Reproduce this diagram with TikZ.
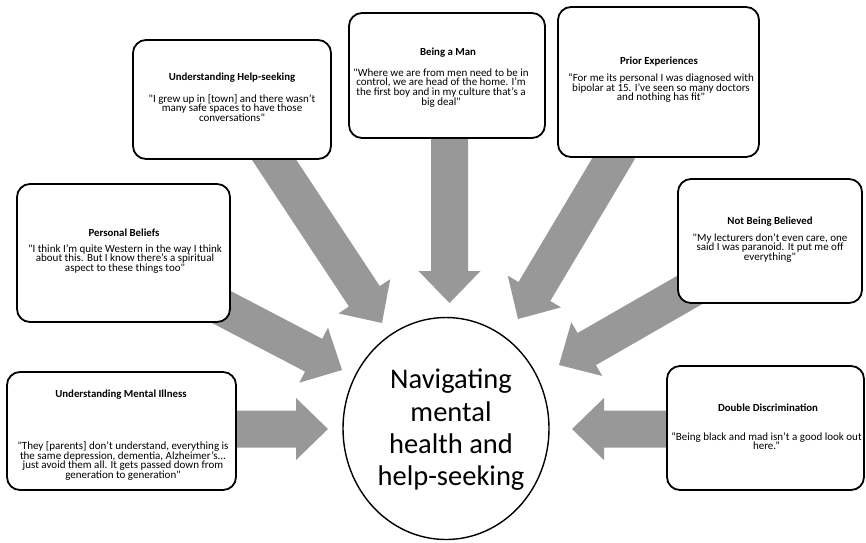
\documentclass[tikz,border=0pt]{standalone}
\usepackage{fontspec}
\setmainfont{Carlito}[Ligatures=TeXOff]
\usetikzlibrary{calc,shapes.geometric}
\definecolor{arrowgrey}{HTML}{989898}

\tikzset{
  card/.style={draw=black, line width=1.8pt, rounded corners=13pt, fill=white, inner sep=0pt},
  cardtitle/.style={font=\fontsize{10.8}{12}\selectfont\bfseries, inner sep=0pt},
  cardquote/.style={font={\fontsize{11}{9.8}\selectfont\lineskiplimit=-20pt}, align=center, inner sep=0pt},
  arrowfill/.style={fill=arrowgrey},
  hub/.style={draw=black, ellipse, line width=1.4pt, minimum width=206pt, minimum height=222pt, inner sep=0pt, fill=white},
  hubtext/.style={font=\fontsize{28.5}{32.3}\selectfont, align=center, inner sep=0pt}
}

% Broad block arrow: #1 name, #2 tail coordinate, #3 tip coordinate
\newcommand\blockarrow[3]{%
  \coordinate (#1-base) at ($(#3)!32pt!(#2)$);
  \fill[arrowfill] ($(#2)!18.5pt!90:(#3)$) -- ($(#1-base)!18.5pt!90:(#3)$)
    -- ($(#1-base)!31pt!90:(#3)$) -- (#3) -- ($(#1-base)!31pt!-90:(#3)$)
    -- ($(#1-base)!18.5pt!-90:(#3)$) -- ($(#2)!18.5pt!-90:(#3)$) -- cycle;
}

\begin{document}
\begin{tikzpicture}[x=1pt, y=-1pt]
\useasboundingbox (0,0) rectangle (866,542);

% arrow ends
\coordinate (t1) at (267.4,149.7); \coordinate (p1) at (382,323);
\coordinate (t2) at (449.5,130);   \coordinate (p2) at (449.5,303);
\coordinate (t3) at (619,149.4);   \coordinate (p3) at (518,319);
\coordinate (t4) at (208,300);     \coordinate (p4) at (342,370);
\coordinate (t5) at (700,284);     \coordinate (p5) at (559,365);
\coordinate (t6) at (225,429);     \coordinate (p6) at (328,429);
\coordinate (t7) at (680,429);     \coordinate (p7) at (572,429);

% arrows towards the centre
\blockarrow{a1}{t1}{p1}
\blockarrow{a2}{t2}{p2}
\blockarrow{a3}{t3}{p3}
\blockarrow{a4}{t4}{p4}
\blockarrow{a5}{t5}{p5}
\blockarrow{a6}{t6}{p6}
\blockarrow{a7}{t7}{p7}

% theme cards
\node[card, minimum width=198pt, minimum height=119pt] (b1) at (232,99.5) {};
\node[cardtitle] (b1t) at (232,78) {Understanding Help-seeking};
\node[cardquote] (b1q) at (232,108) {"I grew up in [town] and there wasn’t\\many safe spaces to have those\\conversations"};

\node[card, minimum width=196pt, minimum height=125pt] (b2) at (447,75.5) {};
\node[cardtitle] (b2t) at (448,53) {Being a Man};
\node[cardquote] (b2q) at (441,88) {"Where we are from men need to be in\\control, we are head of the home. I’m\\the first boy and in my culture that’s a\\big deal"};

\node[card, minimum width=201pt, minimum height=150pt] (b3) at (658.5,82) {};
\node[cardtitle] (b3t) at (659,62) {Prior Experiences};
\node[cardquote] (b3q) at (661,88) {“For me its personal I was diagnosed with\\bipolar at 15. I’ve seen so many doctors\\and nothing has fit"};

\node[card, minimum width=213pt, minimum height=138pt] (b4) at (123.5,253) {};
\node[cardtitle] (b4t) at (124,233) {Personal Beliefs};
\node[cardquote] (b4q) at (125,259) {"I think I’m quite Western in the way I think\\about this. But I know there’s a spiritual\\aspect to these things too"};

\node[card, minimum width=184pt, minimum height=124pt] (b5) at (770,241) {};
\node[cardtitle] (b5t) at (770,222) {Not Being Believed};
\node[cardquote] (b5q) at (770,248) {"My lecturers don’t even care, one\\said I was paranoid. It put me off\\everything"};

\node[card, minimum width=229pt, minimum height=118pt] (b6) at (121.5,431) {};
\node[cardtitle] (b6t) at (121,395) {Understanding Mental Illness};
\node[cardquote] (b6q) at (123,461) {"They [parents] don’t understand, everything is\\the same depression, dementia, Alzheimer’s...\\just avoid them all. It gets passed down from\\generation to generation"};

\node[card, minimum width=197pt, minimum height=124pt] (b7) at (765.5,428) {};
\node[cardtitle] (b7t) at (768,408) {Double Discrimination};
\node[cardquote] (b7q) at (766.5,441) {“Being black and mad isn’t a good look out\\here.”};

% central theme
\node[hub] (hub) at (446,428.5) {};
\node[hubtext] (hubt) at (451,430) {Navigating\\mental\\health and\\help-seeking};
\end{tikzpicture}
\end{document}
